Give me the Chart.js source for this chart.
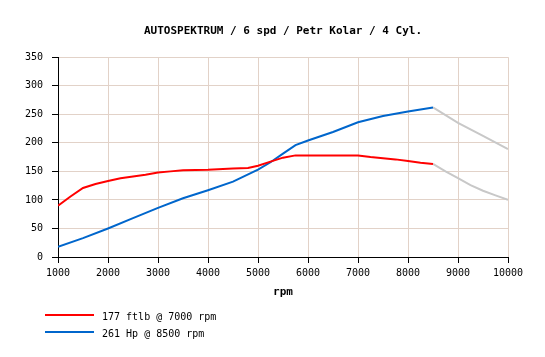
<!DOCTYPE html>
<html>
<head>
<meta charset="utf-8">
<script src="https://cdn.jsdelivr.net/npm/chart.js@4"></script>
<style>
html,body{margin:0;padding:0;background:#fff;}
#wrap{position:relative;width:545px;height:357px;}
#legend{position:absolute;left:45px;top:308px;font:10px "DejaVu Sans Mono",monospace;color:#000;}
.li{position:relative;height:17px;line-height:15px;}
.sw{position:absolute;left:0;top:6px;width:49px;height:2px;}
.lt{position:absolute;left:57px;top:1px;white-space:nowrap;}
</style>
</head>
<body>
<div id="wrap">
<canvas id="c" width="545" height="357"></canvas>
<div id="legend"></div>
</div>
<script>
const titleText = "AUTOSPEKTRUM / 6 spd / Petr Kolar / 4 Cyl.";
const xTitle = "rpm";
const seriesLabels = ["177 ftlb @ 7000 rpm", "261 Hp @ 8500 rpm"];

const torqueRpm = [1000,1250,1500,1750,2000,2250,2500,2750,3000,3250,3500,4000,4500,4800,5000,5250,5500,5750,6000,6500,7000,7250,7500,7750,8000,8250,8500];
const torqueVal = [90,106,121,128,133,138,141,144,148,150,152,153,155,156,160,167,174,178,178,178,178,175,173,171,168,165,163];
const torqueExtRpm = [8500,8750,9000,9250,9500,9750,10000];
const torqueExtVal = [163,150,138,126,116,108,100];

const hpRpm = [1000,1500,2000,2500,3000,3500,4000,4500,5000,5250,5500,5750,6000,6500,7000,7500,8000,8500];
const hpVal = [18,33,50,68,86,103,117,132,153,166,181,196,204,219,236,247,255,262];
const hpExtRpm = [8500,9000,9500,10000];
const hpExtVal = [262,235,212,189];

const colors = ["#ff0000", "#0066cc"];
const extColor = "#c8c8c8";

const pts = (xs, ys) => xs.map((x, i) => ({x: x, y: ys[i]}));

const legend = document.getElementById('legend');
seriesLabels.forEach((l, i) => {
  const d = document.createElement('div'); d.className = 'li';
  d.innerHTML = '<div class="sw" style="background:' + colors[i] + '"></div><div class="lt">' + l + '</div>';
  legend.appendChild(d);
});

const font = {family: "'DejaVu Sans Mono', monospace", size: 10};
new Chart(document.getElementById('c'), {
  type: 'line',
  data: {
    datasets: [
      {label: seriesLabels[0], data: pts(torqueRpm, torqueVal), borderColor: colors[0], borderWidth: 2, pointRadius: 0, tension: 0},
      {label: seriesLabels[1], data: pts(hpRpm, hpVal), borderColor: colors[1], borderWidth: 2, pointRadius: 0, tension: 0},
      {label: 'ext1', data: pts(torqueExtRpm, torqueExtVal), borderColor: extColor, borderWidth: 2, pointRadius: 0, tension: 0},
      {label: 'ext2', data: pts(hpExtRpm, hpExtVal), borderColor: extColor, borderWidth: 2, pointRadius: 0, tension: 0}
    ]
  },
  options: {
    responsive: false,
    animation: false,
    layout: {padding: {left: 0, right: 37, top: 0, bottom: 58}},
    plugins: {
      legend: {display: false},
      tooltip: {enabled: false},
      title: {display: true, fullSize: false, text: titleText, color: '#000', font: {family: font.family, size: 11, weight: 'bold'}, padding: {top: 25, bottom: 19}}
    },
    scales: {
      x: {
        type: 'linear', min: 1000, max: 10000,
        ticks: {stepSize: 1000, color: '#000', font: font, padding: 4, maxRotation: 0, callback: v => String(v)},
        grid: {color: '#e2d2c8', tickColor: '#000', tickLength: 6, lineWidth: 1},
        border: {color: '#000', width: 1},
        title: {display: true, text: xTitle, color: '#000', font: {family: font.family, size: 11, weight: 'bold'}, padding: {top: 3, bottom: 0}},
        afterFit: s => { s.height = 42; }
      },
      y: {
        min: 0, max: 350,
        ticks: {stepSize: 50, color: '#000', font: font, padding: 9},
        grid: {color: '#e2d2c8', tickColor: '#000', tickLength: 6, lineWidth: 1},
        border: {color: '#000', width: 1},
        afterFit: s => { s.width = 58; }
      }
    }
  }
});
</script>
</body>
</html>
